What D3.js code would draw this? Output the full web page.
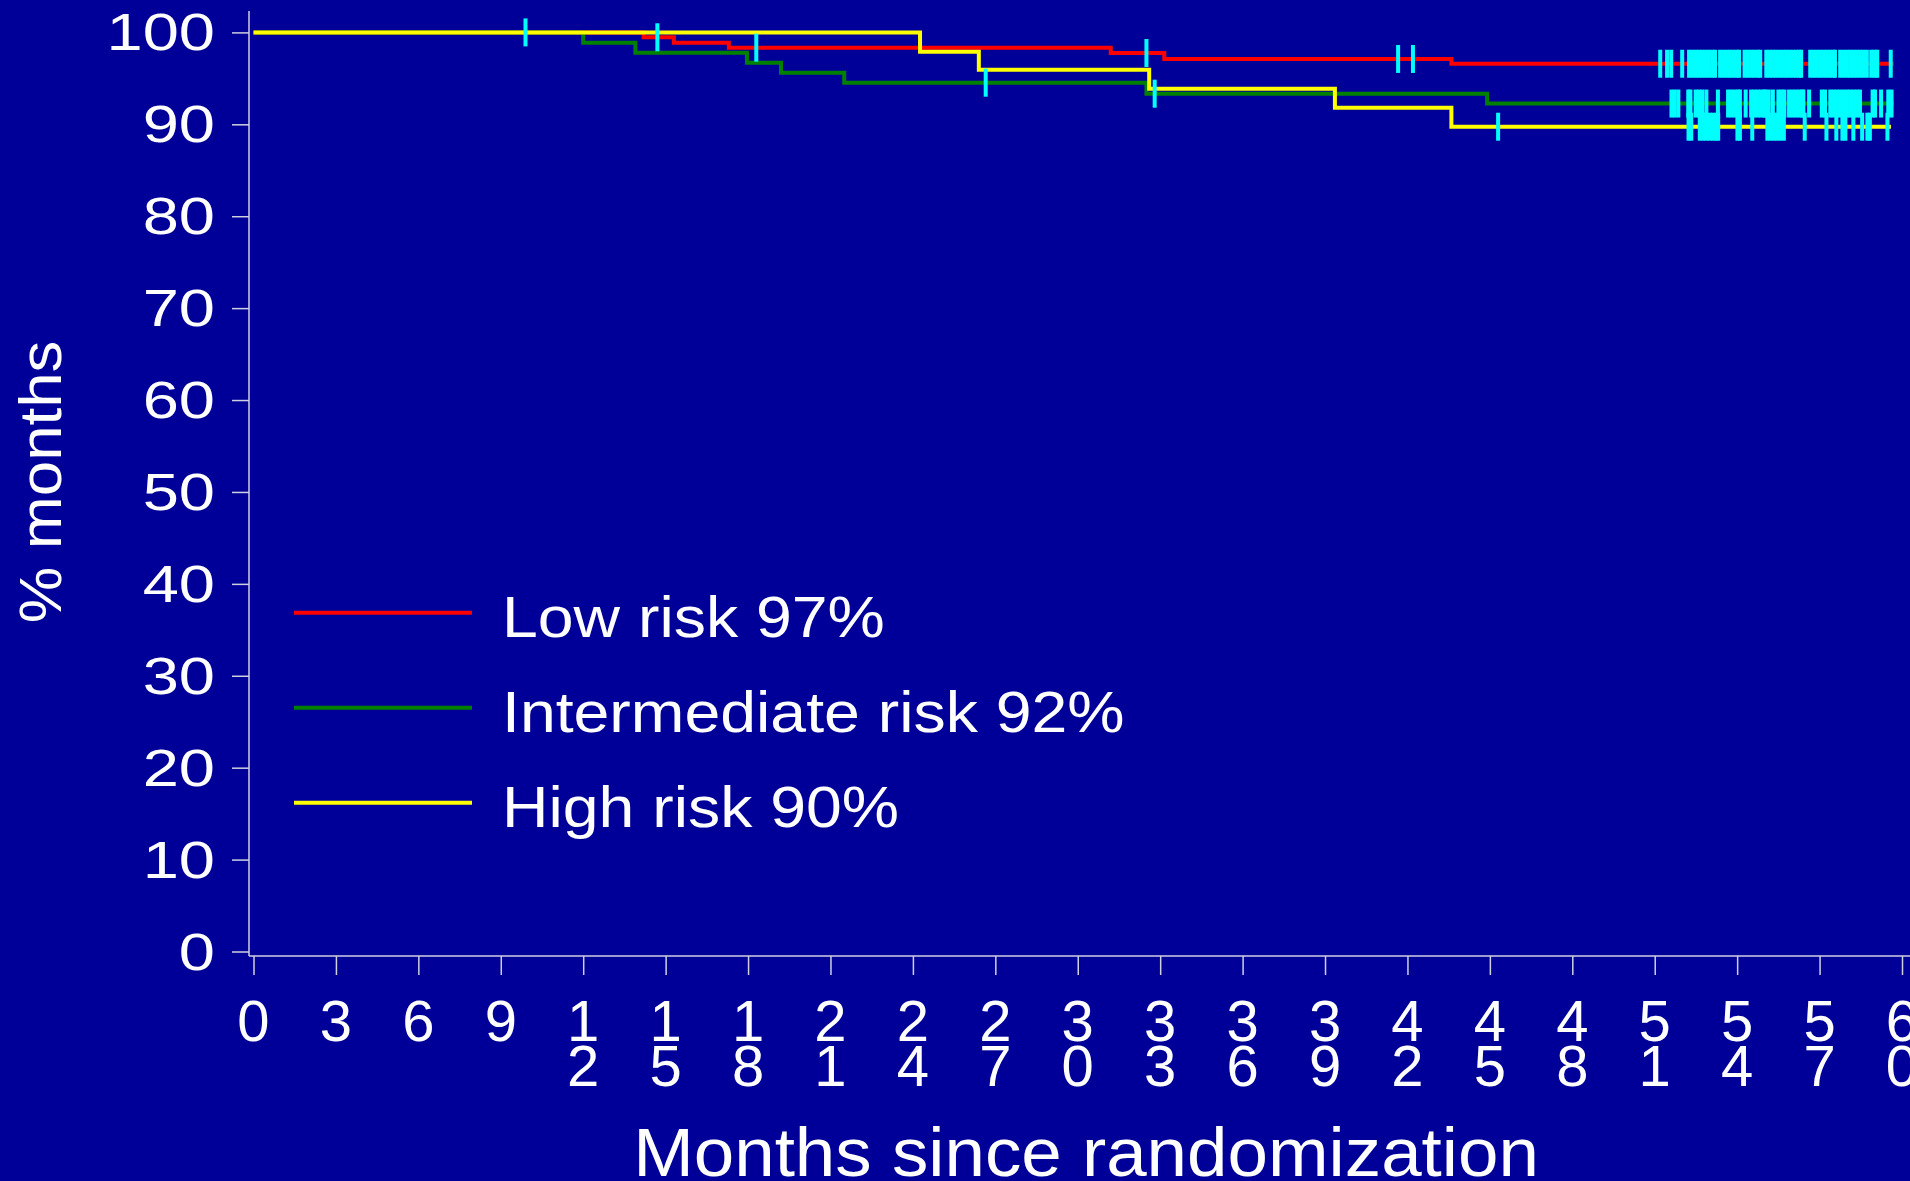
<!DOCTYPE html>
<html>
<head>
<meta charset="utf-8">
<script src="https://cdn.jsdelivr.net/npm/d3@7"></script>
<style>
  html, body { margin: 0; padding: 0; background: #000099; overflow: hidden; }
  svg { display: block; }
  text { font-family: "Liberation Sans", Arial, sans-serif; fill: #ffffff; }
</style>
</head>
<body>
<script>
// Kaplan-Meier steps: drop times (months) and survival after each drop (%)
const lowTimes = [0, 14.2, 15.3, 17.3, 31.2, 33.15, 43.6];
const lowSurv = [100, 99.47, 98.88, 98.34, 97.76, 97.11, 96.59];
const lowEnd = 59.7;
const lowCensor = [9.9, 14.7, 18.3, 32.5, 41.66, 42.2, 51.2, 51.45, 51.6, 52.0, 52.25, 52.37, 52.49, 52.61, 52.73, 52.85, 52.97, 53.09, 53.2, 53.38, 53.5, 53.62, 53.74, 53.86, 53.98, 54.07, 54.27, 54.39, 54.51, 54.63, 54.75, 54.84, 55.06, 55.18, 55.3, 55.42, 55.54, 55.66, 55.78, 55.9, 56.02, 56.14, 56.26, 56.33, 56.66, 56.78, 56.9, 57.02, 57.14, 57.26, 57.38, 57.5, 57.56, 57.75, 57.87, 57.99, 58.11, 58.23, 58.35, 58.47, 58.59, 58.72, 58.88, 59.0, 59.1, 59.59];

const intTimes = [0, 12.0, 13.9, 17.96, 19.2, 21.5, 32.5, 44.9];
const intSurv = [100, 98.88, 97.79, 96.7, 95.61, 94.53, 93.33, 92.26];
const intEnd = 59.7;
const intCensor = [26.65, 32.8, 51.61, 51.73, 51.86, 52.22, 52.3, 52.49, 52.61, 52.73, 52.88, 53.3, 53.67, 53.79, 53.91, 54.03, 54.1, 54.31, 54.51, 54.63, 54.75, 54.87, 54.99, 55.02, 55.15, 55.3, 55.5, 55.62, 55.72, 55.89, 56.01, 56.13, 56.25, 56.37, 56.41, 56.62, 57.08, 57.2, 57.39, 57.51, 57.63, 57.75, 57.87, 57.99, 58.11, 58.23, 58.35, 58.47, 58.93, 59.02, 59.24, 59.5, 59.62];

const highTimes = [0, 24.26, 26.4, 32.6, 39.36, 43.6];
const highSurv = [100, 97.9, 95.94, 93.87, 91.81, 89.74];
const highEnd = 59.6;
const highCensor = [45.3, 52.23, 52.33, 52.64, 52.76, 52.88, 53.0, 53.12, 53.24, 53.31, 54.01, 54.1, 54.55, 55.1, 55.22, 55.34, 55.46, 55.58, 55.7, 56.46, 57.25, 57.61, 57.83, 57.94, 58.23, 58.55, 58.74, 58.83, 59.47];

const seriesNames = ["Low risk 97%", "Intermediate risk 92%", "High risk 90%"];
const seriesColors = ["#ff0000", "#008000", "#ffff00"];

const xTicks = d3.range(0, 61, 3);
const yTicks = d3.range(0, 101, 10);

const width = 1910;
const height = 1181;

const x = d3.scaleLinear([0, 60], [253.5, 1902]);
const y = d3.scaleLinear([0, 100], [951.5, 32.4]);

const svg = d3.select("body").append("svg")
    .attr("width", width)
    .attr("height", height);

svg.append("rect")
    .attr("width", width)
    .attr("height", height)
    .attr("fill", "#000099");

const axisColor = "#cfcfe0";

// Y axis
const yAxis = svg.append("g")
    .attr("transform", "translate(249,0)")
    .call(d3.axisLeft(y).tickValues(yTicks).tickSize(17).tickFormat(""));
yAxis.select(".domain").remove();
yAxis.selectAll("line").attr("stroke", axisColor).attr("stroke-width", 1.5);
svg.append("line")
    .attr("x1", 249).attr("x2", 249)
    .attr("y1", 11).attr("y2", 956)
    .attr("stroke", axisColor).attr("stroke-width", 1.5);

svg.append("g").selectAll("text")
    .data(yTicks)
    .join("text")
    .attr("transform", d => `translate(215,${y(d) + 18})scale(1.25,1)`)
    .attr("text-anchor", "end")
    .attr("font-size", 52)
    .text(d => d);

// X axis
const xAxis = svg.append("g")
    .attr("transform", "translate(0,956)")
    .call(d3.axisBottom(x).tickValues(xTicks).tickSize(19).tickFormat(""));
xAxis.select(".domain").remove();
xAxis.selectAll("line").attr("stroke", axisColor).attr("stroke-width", 1.5);
svg.append("line")
    .attr("x1", 249).attr("x2", width)
    .attr("y1", 956).attr("y2", 956)
    .attr("stroke", axisColor).attr("stroke-width", 1.5);

// tick labels are stacked one digit per row
const digits = xTicks.flatMap(t => String(t).split("").map((c, i) => ({ c, t, i })));
svg.append("g").selectAll("text")
    .data(digits)
    .join("text")
    .attr("x", d => x(d.t))
    .attr("y", d => 1041 + d.i * 45)
    .attr("text-anchor", "middle")
    .attr("font-size", 58)
    .text(d => d.c);

// Axis titles
svg.append("text")
    .attr("transform", "translate(1086,1176)scale(1.07,1)")
    .attr("text-anchor", "middle")
    .attr("font-size", 68)
    .text("Months since randomization");

svg.append("text")
    .attr("transform", "translate(61,482)rotate(-90)scale(1.06,1)")
    .attr("text-anchor", "middle")
    .attr("font-size", 60)
    .text("% months");

// Curves
const series = [
    { times: lowTimes, surv: lowSurv, end: lowEnd, censor: lowCensor },
    { times: intTimes, surv: intSurv, end: intEnd, censor: intCensor },
    { times: highTimes, surv: highSurv, end: highEnd, censor: highCensor }
];

const line = d3.line()
    .x(d => x(d[0]))
    .y(d => y(d[1]))
    .curve(d3.curveStepAfter);

series.forEach((s, i) => {
    const pts = s.times.map((t, j) => [t, s.surv[j]]);
    pts.push([s.end, s.surv[s.surv.length - 1]]);
    svg.append("path")
        .attr("d", line(pts))
        .attr("fill", "none")
        .attr("stroke", seriesColors[i])
        .attr("stroke-width", 4);
});

// Censor marks
const survAt = (s, t) => s.surv[d3.bisectRight(s.times, t) - 1];
series.forEach(s => {
    svg.append("g").selectAll("line")
        .data(s.censor)
        .join("line")
        .attr("x1", d => x(d)).attr("x2", d => x(d))
        .attr("y1", d => y(survAt(s, d)) - 14)
        .attr("y2", d => y(survAt(s, d)) + 14)
        .attr("stroke", "#00ffff")
        .attr("stroke-width", 4);
});

// Legend
const legend = svg.append("g").selectAll("g")
    .data(seriesNames)
    .join("g")
    .attr("transform", (d, i) => `translate(0,${i * 95})`);
legend.append("line")
    .attr("x1", 294).attr("x2", 472)
    .attr("y1", 612.7).attr("y2", 612.7)
    .attr("stroke", (d, i) => seriesColors[i])
    .attr("stroke-width", 4);
legend.append("text")
    .attr("transform", "translate(502,637.3)scale(1.11,1)")
    .attr("font-size", 58)
    .text(d => d);
</script>
</body>
</html>
